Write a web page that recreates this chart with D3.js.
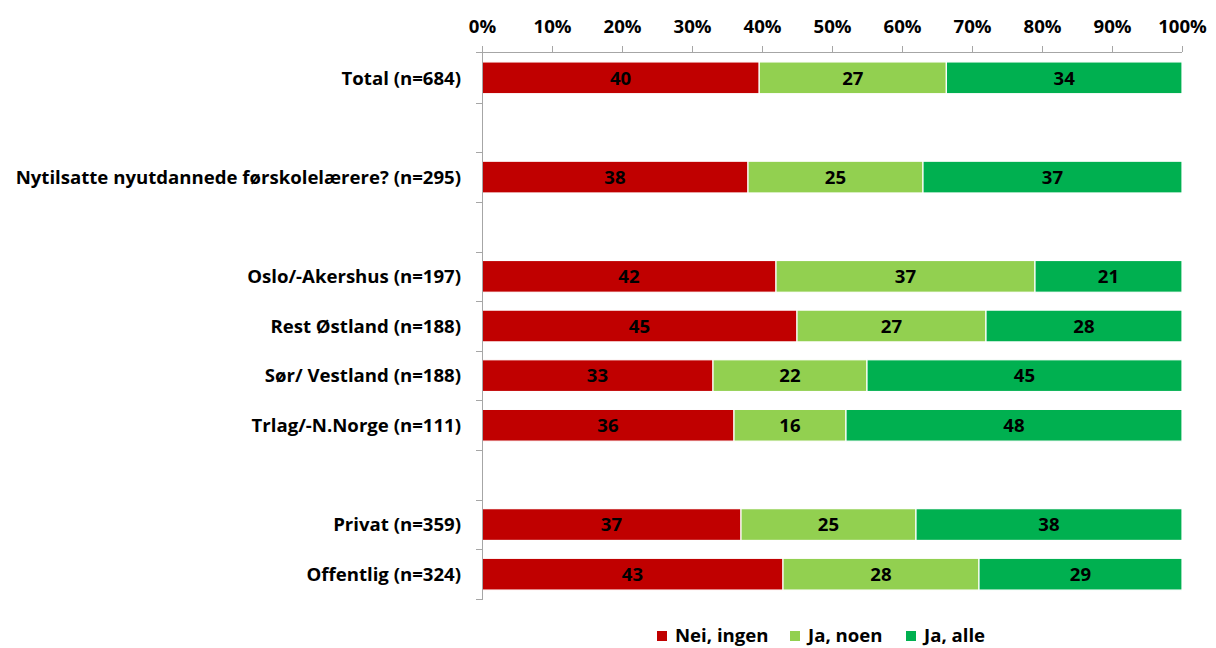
<!DOCTYPE html>
<html><head><meta charset="utf-8">
<script src="https://cdn.jsdelivr.net/npm/d3@7"></script>
<style>body{margin:0;background:#fff}svg{display:block}text{font-family:"Open Sans","Liberation Sans",sans-serif;font-weight:bold}</style>
</head><body><svg id="c" width="1216" height="648"></svg>
<script>
const categories = ["Total (n=684)", "", "Nytilsatte nyutdannede førskolelærere? (n=295)", " ", "Oslo/-Akershus (n=197)", "Rest Østland (n=188)", "Sør/ Vestland (n=188)", "Trlag/-N.Norge (n=111)", "  ", "Privat (n=359)", "Offentlig (n=324)"];
const seriesNames = ["Nei, ingen", "Ja, noen", "Ja, alle"];
const neiIngen = [40, null, 38, null, 42, 45, 33, 36, null, 37, 43];
const jaNoen   = [27, null, 25, null, 37, 27, 22, 16, null, 25, 28];
const jaAlle   = [34, null, 37, null, 21, 28, 45, 48, null, 38, 29];
const colors = ["#C00000", "#92D050", "#00B050"];
const tickValues = [0,10,20,30,40,50,60,70,80,90,100];

const FS = 18.6;
const svg = d3.select("#c");
const x = d3.scaleLinear().domain([0,100]).range([482,1182]);
const y = d3.scaleBand().domain(categories).range([53,599]).paddingInner(0.36).paddingOuter(0.18);
const axisColor = "#A6A6A6";

const rows = categories.map((c,i)=>({cat:c, v:[neiIngen[i], jaNoen[i], jaAlle[i]]})).filter(r=>r.v[0]!=null);
rows.forEach(r=>{const s=d3.sum(r.v); let acc=0; r.segs=r.v.map((v,k)=>{const o={k,v,x0:acc/s*100,x1:(acc+v)/s*100}; acc+=v; return o;});});

const g = svg.append("g");
rows.forEach(r=>{
  const gr = g.append("g");
  gr.selectAll("rect").data(r.segs).join("rect")
    .attr("x",d=>x(d.x0)).attr("width",d=>x(d.x1)-x(d.x0))
    .attr("y",y(r.cat)).attr("height",y.bandwidth())
    .attr("fill",d=>colors[d.k]).attr("stroke","#fff").attr("stroke-width",1.2);
  gr.selectAll("text").data(r.segs).join("text")
    .attr("x",d=>(x(d.x0)+x(d.x1))/2).attr("y",y(r.cat)+y.bandwidth()/2)
    .attr("dy","0.36em").attr("text-anchor","middle").attr("font-size",FS).attr("fill","#000")
    .text(d=>d.v);
});

const xa = svg.append("g").attr("transform","translate(0,52)")
  .call(d3.axisTop(x).tickValues(tickValues).tickFormat(d=>d+"%").tickSize(6).tickPadding(13).tickSizeOuter(0));
xa.select(".domain").attr("stroke",axisColor).attr("d","M476,0.5H1182");
xa.selectAll(".tick line").attr("stroke",axisColor);
xa.selectAll(".tick text").attr("font-size",FS).attr("fill","#000").style("font-family","'Open Sans', sans-serif").style("font-weight","bold");

svg.append("line").attr("x1",482.5).attr("x2",482.5).attr("y1",46).attr("y2",600).attr("stroke",axisColor);
const bounds = d3.range(1, categories.length+1).map(i=>y.range()[0] + i*y.step());
svg.selectAll(".lt").data(bounds).join("line").attr("class","lt")
  .attr("x1",476).attr("x2",482).attr("y1",d=>Math.round(d)+0.5).attr("y2",d=>Math.round(d)+0.5).attr("stroke",axisColor);

svg.selectAll(".cl").data(rows).join("text").attr("class","cl")
  .attr("x",461).attr("y",r=>y(r.cat)+y.bandwidth()/2).attr("dy","0.36em")
  .attr("text-anchor","end").attr("font-size",FS).attr("fill","#000").text(r=>r.cat);

const lx = [657, 790, 906];
const lg = svg.append("g");
seriesNames.forEach((n,i)=>{
  lg.append("rect").attr("x",lx[i]).attr("y",631).attr("width",10).attr("height",10).attr("fill",colors[i]);
  lg.append("text").attr("x",lx[i]+18).attr("y",636).attr("dy","0.34em").attr("font-size",FS).attr("fill","#000").text(n);
});
</script></body></html>
